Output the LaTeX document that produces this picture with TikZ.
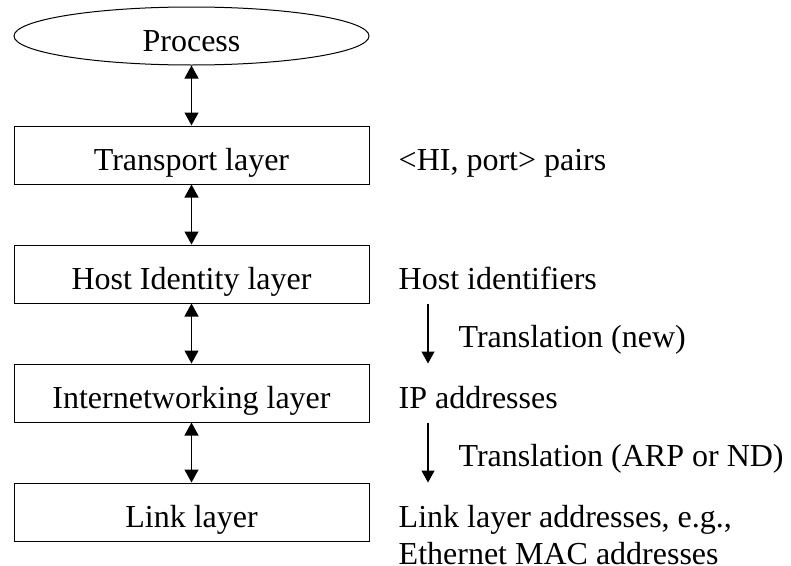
\documentclass[tikz,border=0pt]{standalone}
\usepackage{fontspec}
\setmainfont{Liberation Serif}
\usetikzlibrary{positioning,arrows.meta,shapes.geometric}

\begin{document}
\begin{tikzpicture}[
    x=1pt, y=-1pt,
    node distance=60pt,
    every node/.style={font=\fontsize{32}{37}\selectfont, inner sep=0},
    layerbox/.style={draw, line width=1pt, minimum width=355pt, minimum height=58pt,
      text height=30pt, text depth=0pt},
    procbox/.style={layerbox, ellipse},
    addr/.style={anchor=base west, xshift=29pt},
    updown/.style={line width=1.2pt,
      {Triangle[length=13pt,width=14pt]}-{Triangle[length=13pt,width=14pt]}},
    xlate/.style={line width=1.2pt, -{Triangle[length=12pt,width=13pt]}}
  ]
  \useasboundingbox (0,0) rectangle (791,565);
  % the stack
  \node[procbox] (process) at (191.5,36) {Process};
  \node[layerbox, below=of process] (transport) {Transport layer};
  \node[layerbox, below=of transport] (hostid) {Host Identity layer};
  \node[layerbox, below=of hostid] (inet) {Internetworking layer};
  \node[layerbox, below=of inet] (linkl) {Link layer};
  \draw[updown] (process) -- (transport);
  \draw[updown] (transport) -- (hostid);
  \draw[updown] (hostid) -- (inet);
  \draw[updown] (inet) -- (linkl);
  % names used at each layer
  \node[addr] (hipairs) at (transport.base east) {<HI, port> pairs};
  \node[addr] (hinames) at (hostid.base east) {Host identifiers};
  \node[addr] (ipaddr) at (inet.base east) {IP addresses};
  \node[addr, align=left, yshift=-37pt] (macaddr) at (linkl.base east)
    {Link layer addresses, e.g.,\\Ethernet MAC addresses};
  % translations
  \coordinate (xcol) at (428,0);
  \coordinate (hifrom) at (hostid.south -| xcol);
  \coordinate (hito) at (inet.north -| xcol);
  \coordinate (ipfrom) at (inet.south -| xcol);
  \coordinate (ipto) at (linkl.north -| xcol);
  \draw[xlate] (hifrom) -- node[anchor=base west, xshift=30pt, yshift=-14pt] (tnew)
    {Translation (new)} (hito);
  \draw[xlate] (ipfrom) -- node[anchor=base west, xshift=30pt, yshift=-14pt] (tarp)
    {Translation (ARP or ND)} (ipto);
\end{tikzpicture}
\end{document}
